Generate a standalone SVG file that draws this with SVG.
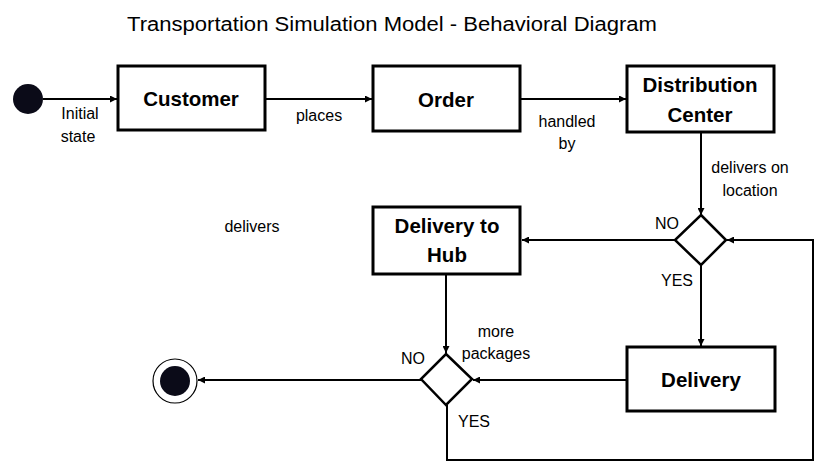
<svg xmlns="http://www.w3.org/2000/svg" width="820" height="468" viewBox="0 0 820 468">
<defs>
<marker id="ah" viewBox="0 0 10 10" refX="10" refY="5" markerWidth="9" markerHeight="7" markerUnits="userSpaceOnUse" orient="auto">
<path d="M0,0 L10,5 L0,10 z" fill="#000"/>
</marker>
<style>
.box{fill:#fff;stroke:#000;stroke-width:3}
.dia{fill:#fff;stroke:#000;stroke-width:2.5}
.edge{fill:none;stroke:#000;stroke-width:2}
.nl{font-family:"Liberation Sans",Arial,sans-serif;font-weight:bold;font-size:20.5px;text-anchor:middle;fill:#000}
.lb{font-family:"Liberation Sans",Arial,sans-serif;font-size:16px;text-anchor:middle;fill:#000}
.title{font-family:"Liberation Sans",Arial,sans-serif;font-size:20px;fill:#000}
</style>
</defs>
<rect width="820" height="468" fill="#fff"/>
<text class="title" x="127" y="31" textLength="530" lengthAdjust="spacingAndGlyphs">Transportation Simulation Model - Behavioral Diagram</text>

<g id="connectors">
<line class="edge" x1="43" y1="99" x2="117" y2="99" marker-end="url(#ah)"/>
<line class="edge" x1="266" y1="99" x2="372" y2="99" marker-end="url(#ah)"/>
<line class="edge" x1="521" y1="99" x2="626" y2="99" marker-end="url(#ah)"/>
<line class="edge" x1="701" y1="133" x2="701" y2="215" marker-end="url(#ah)"/>
<line class="edge" x1="675" y1="240" x2="522" y2="240" marker-end="url(#ah)"/>
<line class="edge" x1="701" y1="265" x2="701" y2="346" marker-end="url(#ah)"/>
<line class="edge" x1="446" y1="275" x2="446" y2="353" marker-end="url(#ah)"/>
<line class="edge" x1="626" y1="380" x2="473" y2="380" marker-end="url(#ah)"/>
<line class="edge" x1="421" y1="380" x2="198" y2="380" marker-end="url(#ah)"/>
<polyline class="edge" points="447,405 447,460 813,460 813,240 727,240" marker-end="url(#ah)"/>
</g>

<g id="labels">
<text class="lb" x="80" y="119">Initial</text>
<text class="lb" x="78" y="142">state</text>
<text class="lb" x="319" y="121">places</text>
<text class="lb" x="567" y="127">handled</text>
<text class="lb" x="567" y="149">by</text>
<text class="lb" x="750" y="173">delivers on</text>
<text class="lb" x="750" y="196">location</text>
<text class="lb" x="252" y="232">delivers</text>
<text class="lb" x="667" y="229">NO</text>
<text class="lb" x="677" y="286">YES</text>
<text class="lb" x="496" y="337">more</text>
<text class="lb" x="496" y="359">packages</text>
<text class="lb" x="413" y="364">NO</text>
<text class="lb" x="474" y="427">YES</text>
</g>

<g id="initial">
<circle cx="28" cy="99" r="15" fill="#0b0b18"/>
</g>
<g id="customer">
<rect class="box" x="118" y="66" width="147" height="64"/>
<text class="nl" x="191" y="106">Customer</text>
</g>
<g id="order">
<rect class="box" x="373" y="66" width="147" height="65"/>
<text class="nl" x="446" y="107">Order</text>
</g>
<g id="distribution-center">
<rect class="box" x="627" y="66" width="147" height="66"/>
<text class="nl" x="700" y="92">Distribution</text>
<text class="nl" x="700" y="122">Center</text>
</g>
<g id="decision-location">
<polygon class="dia" points="701,215 726,240 701,265 675,240"/>
</g>
<g id="delivery-to-hub">
<rect class="box" x="373" y="207" width="147" height="67"/>
<text class="nl" x="447" y="233">Delivery to</text>
<text class="nl" x="447" y="262">Hub</text>
</g>
<g id="delivery">
<rect class="box" x="627" y="347" width="148" height="64"/>
<text class="nl" x="701" y="387">Delivery</text>
</g>
<g id="decision-packages">
<polygon class="dia" points="446,354 472,379 446,405 421,379"/>
</g>
<g id="final">
<circle cx="175" cy="381" r="22" fill="#fff" stroke="#000" stroke-width="1.2"/>
<circle cx="175" cy="381" r="15" fill="#0b0b18"/>
</g>
</svg>
